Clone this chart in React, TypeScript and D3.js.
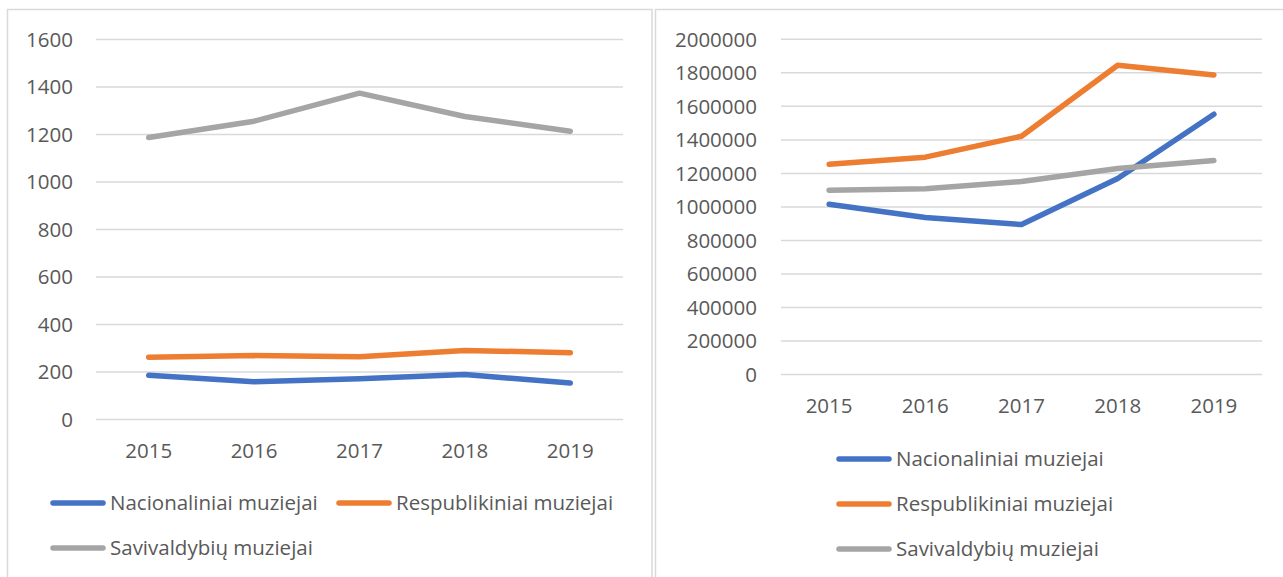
import React from "react";
import * as d3 from "d3";

const years = ["2015", "2016", "2017", "2018", "2019"];
const seriesNames = ["Nacionaliniai muziejai", "Respublikiniai muziejai", "Savivaldybių muziejai"];
const seriesColors = ["#4472C4", "#ED7D31", "#A5A5A5"];

// Left chart: number of museums (units)
const leftNacionaliniai = [186, 159, 172, 189, 154];
const leftRespublikiniai = [262, 269, 264, 291, 281];
const leftSavivaldybiu = [1187, 1256, 1374, 1276, 1214];
const leftTicks = [0, 200, 400, 600, 800, 1000, 1200, 1400, 1600];

// Right chart: visitors
const rightNacionaliniai = [1016000, 937000, 895000, 1170000, 1553000];
const rightRespublikiniai = [1255000, 1297000, 1422000, 1845000, 1787000];
const rightSavivaldybiu = [1100000, 1108000, 1152000, 1229000, 1277000];
const rightTicks = [0, 200000, 400000, 600000, 800000, 1000000, 1200000, 1400000, 1600000, 1800000, 2000000];

const FONT = "'Open Sans', Lato, sans-serif";
const TEXT = "#595959";
const GRID = "#D9D9D9";
const FS = 20.5;

type ChartProps = {
  series: number[][];
  ticks: number[];
  x0: number;
  x1: number;
  yTop: number;
  yBottom: number;
  labelRight: number;
  xLabelY: number;
  legend: { x: number; y: number }[];
};

function LineChart({ series, ticks, x0, x1, yTop, yBottom, labelRight, xLabelY, legend }: ChartProps) {
  const x = d3.scaleBand<string>().domain(years).range([x0, x1]).padding(0);
  const y = d3.scaleLinear().domain([0, ticks[ticks.length - 1]]).range([yBottom, yTop]);
  const cx = (yr: string) => (x(yr) as number) + x.bandwidth() / 2;
  const line = d3
    .line<number>()
    .x((_, i) => cx(years[i]))
    .y((d) => y(d));
  return (
    <g>
      {ticks.map((t) => (
        <g key={t}>
          <line x1={x0} x2={x1} y1={y(t)} y2={y(t)} stroke={GRID} strokeWidth={1.5} />
          <text x={labelRight} y={y(t)} dy="0.36em" textAnchor="end" fill={TEXT} fontSize={FS} fontFamily={FONT}>
            {t}
          </text>
        </g>
      ))}
      {years.map((yr) => (
        <text key={yr} x={cx(yr)} y={xLabelY} dy="0.36em" textAnchor="middle" fill={TEXT} fontSize={FS} fontFamily={FONT}>
          {yr}
        </text>
      ))}
      {series.map((s, i) => (
        <path key={i} d={line(s) || ""} fill="none" stroke={seriesColors[i]} strokeWidth={5.5} strokeLinecap="round" strokeLinejoin="round" />
      ))}
      {legend.map((p, i) => (
        <g key={i}>
          <line x1={p.x} x2={p.x + 50} y1={p.y} y2={p.y} stroke={seriesColors[i]} strokeWidth={5.5} strokeLinecap="round" />
          <text x={p.x + 57} y={p.y} dy="0.36em" fill={TEXT} fontSize={FS} fontFamily={FONT}>
            {seriesNames[i]}
          </text>
        </g>
      ))}
    </g>
  );
}

export default function App() {
  return (
    <svg
      width={1283}
      height={577}
      style={{ position: "absolute", left: 0, top: 0, background: "#fff" }}
    >
      <rect x={0} y={0} width={1283} height={577} fill="#fff" />
      <rect x={7.5} y={9.5} width={644.5} height={600} fill="none" stroke={GRID} strokeWidth={1.5} />
      <rect x={655.5} y={9.5} width={700} height={600} fill="none" stroke={GRID} strokeWidth={1.5} />
      <LineChart
        series={[leftNacionaliniai, leftRespublikiniai, leftSavivaldybiu]}
        ticks={leftTicks}
        x0={96}
        x1={623}
        yTop={39.5}
        yBottom={419.5}
        labelRight={73}
        xLabelY={451}
        legend={[
          { x: 53, y: 503 },
          { x: 339, y: 503 },
          { x: 53, y: 548 },
        ]}
      />
      <LineChart
        series={[rightNacionaliniai, rightRespublikiniai, rightSavivaldybiu]}
        ticks={rightTicks}
        x0={781}
        x1={1262}
        yTop={39.3}
        yBottom={374.6}
        labelRight={757}
        xLabelY={406}
        legend={[
          { x: 839, y: 459 },
          { x: 839, y: 504 },
          { x: 839, y: 549 },
        ]}
      />
    </svg>
  );
}
